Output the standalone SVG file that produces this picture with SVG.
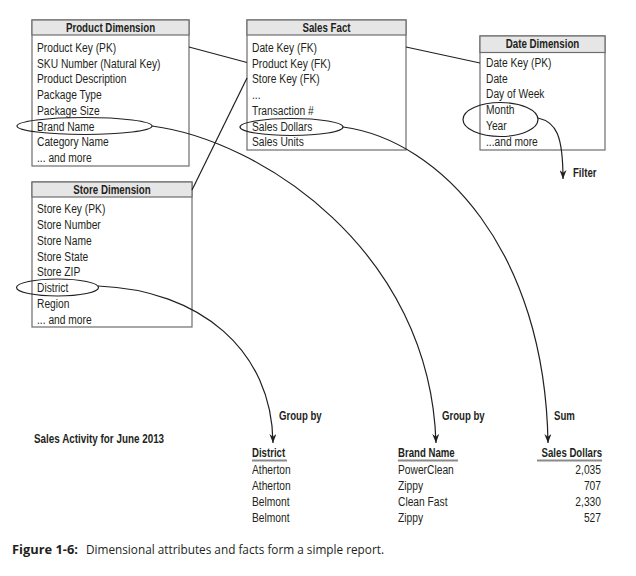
<svg xmlns="http://www.w3.org/2000/svg" width="636" height="576" viewBox="0 0 636 576">
<style>
text{font-family:"Liberation Sans",Arial,sans-serif;fill:#231f20;font-size:12.5px}
.h{font-weight:bold;text-anchor:middle}
.b{font-weight:bold}
.box{fill:#fff;stroke:#6d6d6d;stroke-width:1.2}
.hd{fill:#e6e6e6;stroke:#6d6d6d;stroke-width:1.2}
.ell{fill:none;stroke:#231f20;stroke-width:1.2}
.ln{fill:none;stroke:#231f20;stroke-width:1.2}
.ul{stroke:#8a8a8a;stroke-width:2}
.r{text-anchor:end}
.cap{font-family:"Open Sans","Liberation Sans",sans-serif;font-size:13px}
</style>
<defs>
<marker id="ah" viewBox="0 0 10 10" refX="10" refY="5" markerWidth="9" markerHeight="7" markerUnits="userSpaceOnUse" orient="auto" preserveAspectRatio="none">
<path d="M0,0 L10,5 L0,10 L3,5 z" fill="#231f20"/>
</marker>
</defs>
<g id="product-dimension">
<rect class="box" x="32" y="20" width="157" height="146"/>
<rect class="hd" x="32" y="20" width="157" height="15"/>
<g transform="translate(110.5 0) scale(0.78 1)"><text class="h" x="0" y="32">Product Dimension</text></g>
<g transform="translate(37 0) scale(0.82 1)">
<text x="0" y="52">Product Key (PK)</text>
<text x="0" y="67.7">SKU Number (Natural Key)</text>
<text x="0" y="83.5">Product Description</text>
<text x="0" y="99.2">Package Type</text>
<text x="0" y="115">Package Size</text>
<text x="0" y="130.7">Brand Name</text>
<text x="0" y="146.5">Category Name</text>
<text x="0" y="162.2">... and more</text>
</g>
<ellipse class="ell" cx="84.5" cy="126" rx="67.5" ry="8.5"/>
</g>
<g id="sales-fact">
<rect class="box" x="247" y="20" width="159" height="130"/>
<rect class="hd" x="247" y="20" width="159" height="15"/>
<g transform="translate(326.5 0) scale(0.78 1)"><text class="h" x="0" y="32">Sales Fact</text></g>
<g transform="translate(252 0) scale(0.82 1)">
<text x="0" y="52">Date Key (FK)</text>
<text x="0" y="67.7">Product Key (FK)</text>
<text x="0" y="83.5">Store Key (FK)</text>
<text x="0" y="99.2">...</text>
<text x="0" y="115">Transaction #</text>
<text x="0" y="130.7">Sales Dollars</text>
<text x="0" y="146.5">Sales Units</text>
</g>
<ellipse class="ell" cx="291.5" cy="127" rx="51.5" ry="8.5"/>
</g>
<g id="date-dimension">
<rect class="box" x="480" y="36" width="125" height="114"/>
<rect class="hd" x="480" y="36" width="125" height="16.5"/>
<g transform="translate(542.5 0) scale(0.78 1)"><text class="h" x="0" y="48.5">Date Dimension</text></g>
<g transform="translate(486 0) scale(0.82 1)">
<text x="0" y="67">Date Key (PK)</text>
<text x="0" y="82.7">Date</text>
<text x="0" y="98.5">Day of Week</text>
<text x="0" y="114.2">Month</text>
<text x="0" y="130">Year</text>
<text x="0" y="145.7">...and more</text>
</g>
<ellipse class="ell" cx="500.5" cy="119.5" rx="37.5" ry="17"/>
</g>
<g id="store-dimension">
<rect class="box" x="32" y="182" width="160" height="145"/>
<rect class="hd" x="32" y="182" width="160" height="15"/>
<g transform="translate(112 0) scale(0.78 1)"><text class="h" x="0" y="194">Store Dimension</text></g>
<g transform="translate(37 0) scale(0.82 1)">
<text x="0" y="213.5">Store Key (PK)</text>
<text x="0" y="229.2">Store Number</text>
<text x="0" y="245">Store Name</text>
<text x="0" y="260.7">Store State</text>
<text x="0" y="276.5">Store ZIP</text>
<text x="0" y="292.2">District</text>
<text x="0" y="308">Region</text>
<text x="0" y="323.7">... and more</text>
</g>
<ellipse class="ell" cx="57.5" cy="287.5" rx="41" ry="8.5"/>
</g>
<g id="connectors">
<line class="ln" x1="189" y1="47" x2="247" y2="62.5"/>
<line class="ln" x1="406" y1="47" x2="480" y2="63"/>
<line class="ln" x1="247" y1="78" x2="192" y2="190"/>
<path class="ln" d="M98,286 C200,290 272,350 273,443" marker-end="url(#ah)"/>
<path class="ln" d="M152,126 C260,140 430,250 436,443" marker-end="url(#ah)"/>
<path class="ln" d="M343,127 C440,140 545,250 548,443" marker-end="url(#ah)"/>
<path class="ln" d="M538,118 C556,122 563,135 563,179" marker-end="url(#ah)"/>
</g>
<g id="labels">
<g transform="translate(573 0) scale(0.77 1)"><text class="b" x="0" y="177">Filter</text></g>
<g transform="translate(279 0) scale(0.77 1)"><text class="b" x="0" y="420">Group by</text></g>
<g transform="translate(442 0) scale(0.77 1)"><text class="b" x="0" y="420">Group by</text></g>
<g transform="translate(554 0) scale(0.77 1)"><text class="b" x="0" y="420">Sum</text></g>
<g transform="translate(34 0) scale(0.79 1)"><text class="b" x="0" y="443">Sales Activity for June 2013</text></g>
</g>
<g id="report">
<g transform="translate(252 0) scale(0.77 1)"><text class="b" x="0" y="457">District</text></g>
<line class="ul" x1="252" y1="460.5" x2="287" y2="460.5"/>
<g transform="translate(398 0) scale(0.77 1)"><text class="b" x="0" y="457">Brand Name</text></g>
<line class="ul" x1="398" y1="460.5" x2="458" y2="460.5"/>
<g transform="translate(602 0) scale(0.77 1)"><text class="b r" x="0" y="457">Sales Dollars</text></g>
<line class="ul" x1="537" y1="460.5" x2="602" y2="460.5"/>
<g transform="translate(252 0) scale(0.82 1)">
<text x="0" y="474">Atherton</text>
<text x="0" y="490">Atherton</text>
<text x="0" y="506">Belmont</text>
<text x="0" y="522">Belmont</text>
</g>
<g transform="translate(398 0) scale(0.82 1)">
<text x="0" y="474">PowerClean</text>
<text x="0" y="490">Zippy</text>
<text x="0" y="506">Clean Fast</text>
<text x="0" y="522">Zippy</text>
</g>
<g transform="translate(601 0) scale(0.82 1)">
<text class="r" x="0" y="474">2,035</text>
<text class="r" x="0" y="490">707</text>
<text class="r" x="0" y="506">2,330</text>
<text class="r" x="0" y="522">527</text>
</g>
</g>
<g id="caption">
<text class="cap b" x="12" y="554" textLength="66" lengthAdjust="spacingAndGlyphs">Figure 1-6:</text>
<text class="cap" x="86" y="554" textLength="298" lengthAdjust="spacingAndGlyphs">Dimensional attributes and facts form a simple report.</text>
</g>
</svg>
